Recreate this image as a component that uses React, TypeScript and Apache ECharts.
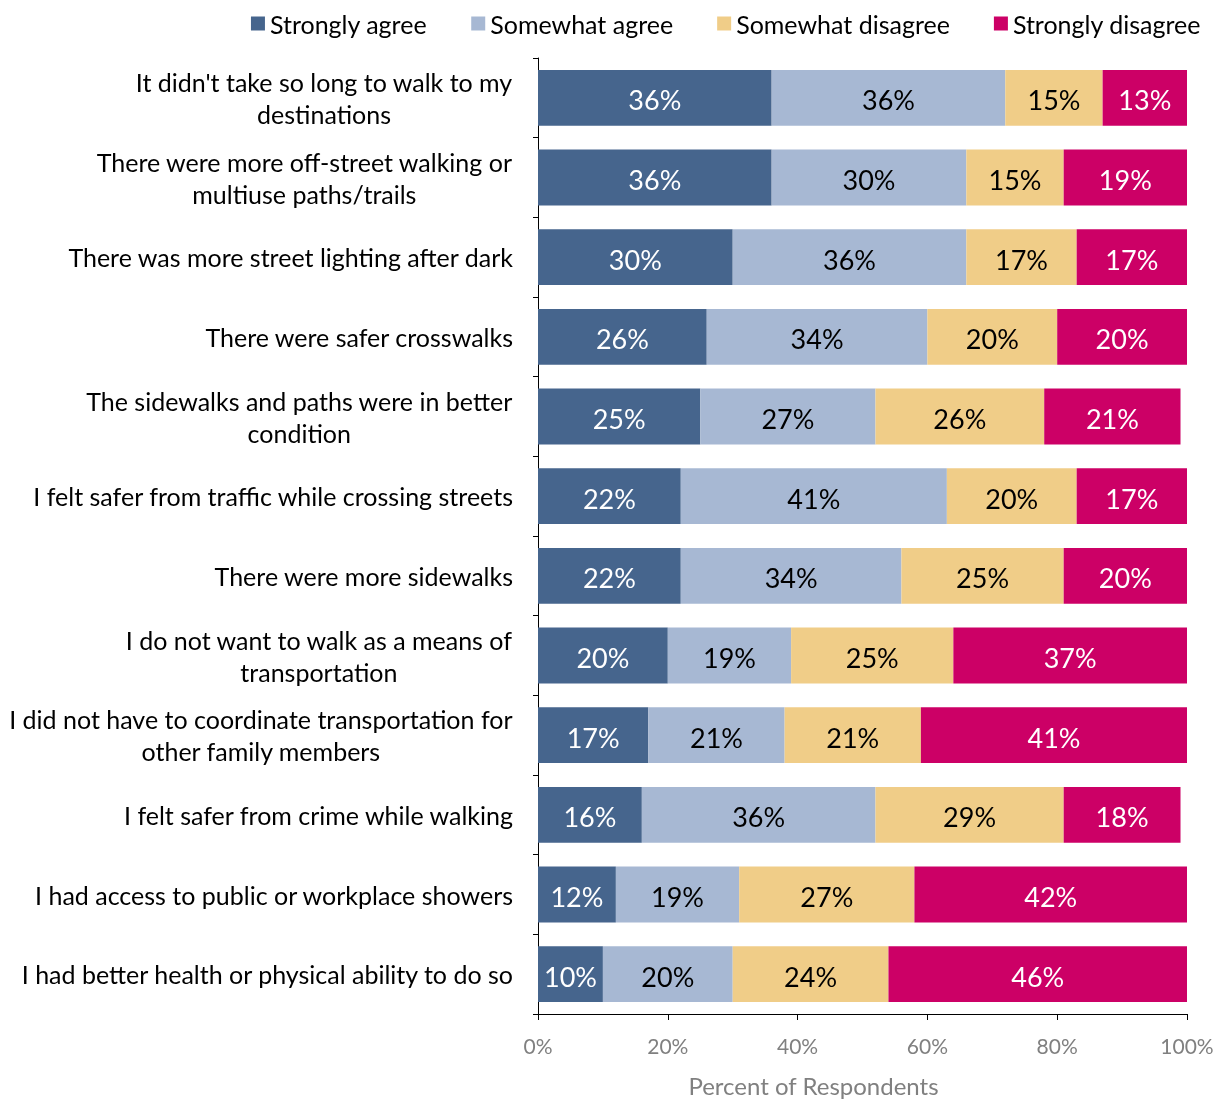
import React, { useEffect, useRef } from "react";
import * as echarts from "echarts";

const categories: string[] = [
  "It didn't take so long to walk to my\ndestinations",
  "There were more off-street walking or\nmultiuse paths/trails",
  "There was more street lighting after dark",
  "There were safer crosswalks",
  "The sidewalks and paths were in better\ncondition",
  "I felt safer from traffic while crossing streets",
  "There were more sidewalks",
  "I do not want to walk as a means of\ntransportation",
  "I did not have to coordinate transportation for\nother family members",
  "I felt safer from crime while walking",
  "I had access to public or workplace showers",
  "I had better health or physical ability to do so",
];

const stronglyAgree: number[] = [36, 36, 30, 26, 25, 22, 22, 20, 17, 16, 12, 10];
const somewhatAgree: number[] = [36, 30, 36, 34, 27, 41, 34, 19, 21, 36, 19, 20];
const somewhatDisagree: number[] = [15, 15, 17, 20, 26, 20, 25, 25, 21, 29, 27, 24];
const stronglyDisagree: number[] = [13, 19, 17, 20, 21, 17, 20, 37, 41, 18, 42, 46];

const seriesNames: string[] = ["Strongly agree", "Somewhat agree", "Somewhat disagree", "Strongly disagree"];
const seriesColors: string[] = ["#46658D", "#A7B8D3", "#F0CD88", "#CC0066"];
const labelColors: string[] = ["#ffffff", "#000000", "#000000", "#ffffff"];

const FONT = "Lato";
const CAT_SIZE = 25;

export default function App() {
  const ref = useRef<HTMLDivElement>(null);
  useEffect(() => {
    if (!ref.current) return;
    const chart = echarts.init(ref.current, null, { renderer: "svg" });
    const ctx = document.createElement("canvas").getContext("2d")!;
    ctx.font = `${CAT_SIZE}px ${FONT}`;
    const rich: Record<string, any> = {};
    categories.forEach((c, i) => {
      const lines = c.split("\n");
      if (lines.length > 1) {
        const w = Math.max(...lines.map((l) => ctx.measureText(l).width)) + 1;
        rich["l" + i] = { width: w, align: "center", fontSize: CAT_SIZE, fontFamily: FONT, color: "#000", lineHeight: 32 };
      }
    });
    const data = [stronglyAgree, somewhatAgree, somewhatDisagree, stronglyDisagree];
    chart.setOption({
      animation: false,
      textStyle: { fontFamily: FONT },
      legend: {
        top: 6,
        right: 11,
        itemWidth: 14,
        itemHeight: 14,
        itemGap: 44,
        icon: "rect",
        textStyle: { fontSize: 25, color: "#000", fontFamily: FONT },
        data: seriesNames,
      },
      grid: { left: 538, right: 30, top: 58, bottom: 87, containLabel: false, outerBoundsMode: "none" },
      xAxis: {
        type: "value",
        min: 0,
        max: 100,
        interval: 20,
        splitLine: { show: false },
        axisLine: { show: true, lineStyle: { color: "#000", width: 1 } },
        axisTick: { show: true, length: 6, lineStyle: { color: "#000" } },
        axisLabel: { formatter: "{value}%", color: "#808080", fontSize: 21, margin: 21, fontFamily: FONT },
        name: "Percent of Respondents",
        nameLocation: "middle",
        nameGap: 59,
        nameTextStyle: { color: "#808080", fontSize: 24, fontFamily: FONT, padding: [0, 98, 0, 0] },
      },
      yAxis: {
        type: "category",
        inverse: true,
        data: categories,
        axisLine: { show: true, lineStyle: { color: "#000", width: 1 } },
        axisTick: { show: true, length: 5, lineStyle: { color: "#000" } },
        axisLabel: {
          color: "#000",
          fontSize: CAT_SIZE,
          fontFamily: FONT,
          margin: 25,
          lineHeight: 32,
          formatter: (value: string, idx: number) => {
            const lines = value.split("\n");
            if (lines.length === 1) return value;
            return lines.map((l) => `{l${idx}|${l}}`).join("\n");
          },
          rich,
        },
      },
      series: data.map((vals, i) => ({
        name: seriesNames[i],
        type: "bar",
        stack: "total",
        barCategoryGap: "30%",
        data: vals,
        itemStyle: { color: seriesColors[i] },
        label: {
          show: true,
          position: "inside",
          formatter: "{c}%",
          color: labelColors[i],
          fontSize: 27,
          fontFamily: FONT,
          offset: [0, 2],
        },
      })),
    });
    return () => chart.dispose();
  }, []);
  return <div ref={ref} style={{ position: "fixed", left: 0, top: 0, width: 1217, height: 1101 }} />;
}
